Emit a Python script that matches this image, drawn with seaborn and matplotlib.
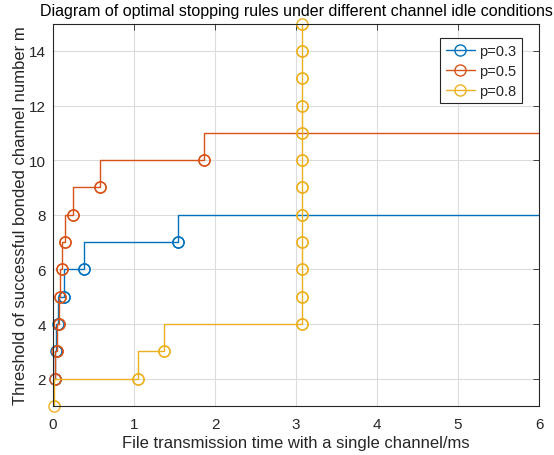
import numpy as np
import pandas as pd
import matplotlib
matplotlib.use("Agg")
import matplotlib.pyplot as plt
import seaborn as sns

# step data (x = transmission time, y = threshold m)
x_p03 = [0.02, 0.04, 0.06, 0.14, 0.38, 1.54, 7.0]
y_p03 = [2, 3, 4, 5, 6, 7, 8]
x_p05 = [0.03, 0.05, 0.07, 0.09, 0.11, 0.15, 0.25, 0.58, 1.86, 7.0]
y_p05 = [2, 3, 4, 5, 6, 7, 8, 9, 10, 11]
x_p08 = [0.01, 1.05, 1.37, 3.07, 3.07, 3.07, 3.07, 3.07, 3.07, 3.07, 3.07, 3.07, 3.07, 3.07, 3.07]
y_p08 = [1, 2, 3, 4, 5, 6, 7, 8, 9, 10, 11, 12, 13, 14, 15]

labels = ["p=0.3", "p=0.5", "p=0.8"]
colors = ["#0072BD", "#D95319", "#EDB120"]

sns.set_style("white")
plt.rcParams['font.family'] = ['Liberation Sans', 'DejaVu Sans']

fig = plt.figure(figsize=(5.54, 4.56), dpi=100)
ax = fig.add_axes([0.0957, 0.1075, 0.8773, 0.8385])

for xs, ys, lab, c in zip([x_p03, x_p05, x_p08], [y_p03, y_p05, y_p08], labels, colors):
    df = pd.DataFrame({"x": xs, "y": ys})
    sns.lineplot(data=df, x="x", y="y", ax=ax, estimator=None, sort=False,
                 drawstyle="steps-pre", color=c, lw=1.0, marker="o",
                 markersize=8, markerfacecolor="none", markeredgecolor=c,
                 markeredgewidth=1.0, label=lab)
    # markers again, unclipped, so the ones on the axes edges stay whole
    inside = df[df["x"] <= 6]
    sns.lineplot(data=inside, x="x", y="y", ax=ax, estimator=None, sort=False,
                 linestyle="", marker="o", markersize=8, markerfacecolor="none",
                 markeredgecolor=c, markeredgewidth=1.0, clip_on=False, legend=False)

ax.set_xlim(0, 6)
ax.set_ylim(1, 15)
ax.set_xticks(range(0, 7))
ax.set_yticks(range(2, 15, 2))
ax.grid(True, color="#dcdcdc", lw=0.8)
ax.set_axisbelow(True)
for s in ax.spines.values():
    s.set_color("#262626")
    s.set_linewidth(0.8)
ax.tick_params(direction="in", top=True, right=True, length=4, width=0.6,
               colors="#262626", labelsize=11)
ax.tick_params(axis="x", pad=8)
ax.tick_params(axis="y", pad=5)

ax.set_title("Diagram of optimal stopping rules under different channel idle conditions",
             fontsize=11.5, color="#000000", pad=6)
ax.set_xlabel("File transmission time with a single channel/ms", fontsize=12,
              color="#262626", labelpad=3)
ax.set_ylabel("Threshold of successful bonded channel number m", fontsize=12,
              color="#262626", labelpad=1)

leg = ax.legend(loc="upper right", bbox_to_anchor=(0.965, 0.962), borderaxespad=0,
                fontsize=10.5, fancybox=False, edgecolor="#262626", framealpha=1,
                handlelength=2.0, borderpad=0.4, labelspacing=0.4, handletextpad=0.3)
leg.get_frame().set_linewidth(0.8)

fig.savefig("out.png", dpi=100)
